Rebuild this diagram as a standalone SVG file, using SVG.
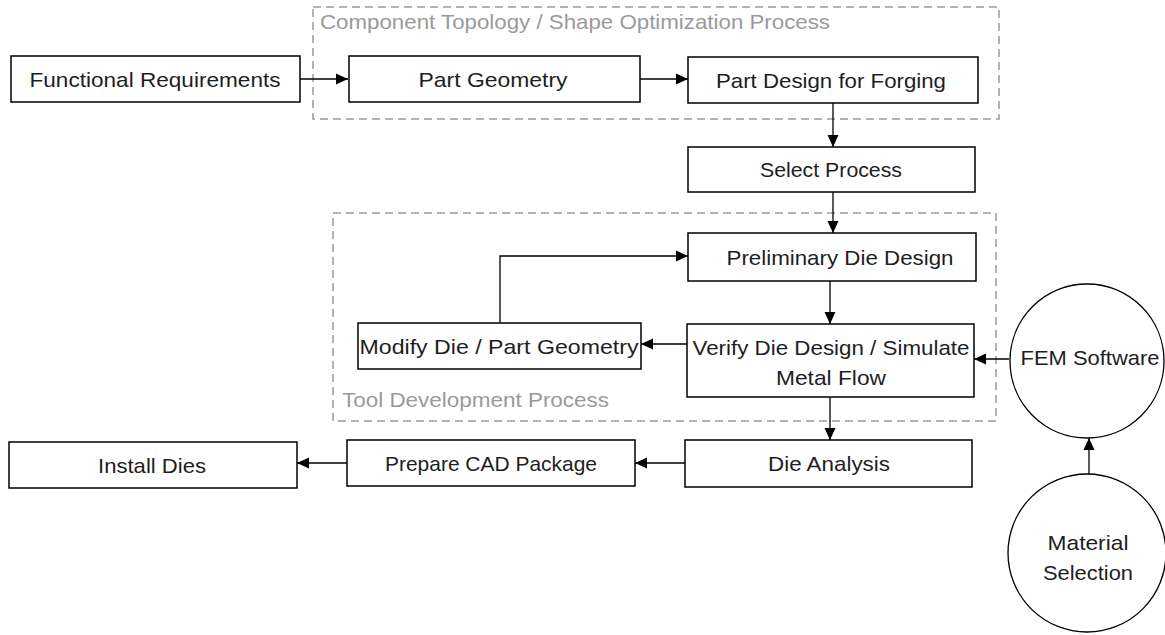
<svg xmlns="http://www.w3.org/2000/svg" width="1165" height="635" viewBox="0 0 1165 635">
<style>
.box{fill:#fff;stroke:#000;stroke-width:1.5}
.circ{fill:#fff;stroke:#000;stroke-width:1.3}
.grp{fill:none;stroke:#9a9a9a;stroke-width:1.5;stroke-dasharray:8 5}
.t{font-family:"Liberation Sans",Arial,sans-serif;font-size:21px;fill:#1e1e1e;text-anchor:middle}
.g{font-family:"Liberation Sans",Arial,sans-serif;font-size:21px;fill:#9a9a9a}
.c{fill:none;stroke:#000;stroke-width:1.3}
</style>
<defs>
<marker id="ah" markerUnits="userSpaceOnUse" markerWidth="12" markerHeight="12" refX="12" refY="6" orient="auto">
<path d="M0,0.5 L12,6 L0,11.5 z" fill="#000"/>
</marker>
</defs>
<rect width="1165" height="635" fill="#fff"/>
<g id="group-topology">
<rect class="grp" x="313" y="7" width="686" height="112"/>
<text class="g" x="320" y="29" textLength="510" lengthAdjust="spacingAndGlyphs">Component Topology / Shape Optimization Process</text>
</g>
<g id="group-tool">
<rect class="grp" x="333" y="213" width="663" height="208"/>
<text class="g" x="342" y="407" textLength="267" lengthAdjust="spacingAndGlyphs">Tool Development Process</text>
</g>
<g id="connectors">
<line class="c" x1="300" y1="79" x2="348" y2="79" marker-end="url(#ah)"/>
<line class="c" x1="640" y1="79" x2="688" y2="79" marker-end="url(#ah)"/>
<line class="c" x1="833" y1="103" x2="833" y2="147" marker-end="url(#ah)"/>
<line class="c" x1="833" y1="192" x2="833" y2="233" marker-end="url(#ah)"/>
<line class="c" x1="830" y1="281" x2="830" y2="324" marker-end="url(#ah)"/>
<line class="c" x1="687" y1="344" x2="641" y2="344" marker-end="url(#ah)"/>
<polyline class="c" points="500,323 500,256 688,256" marker-end="url(#ah)"/>
<line class="c" x1="1009" y1="359" x2="974" y2="359" marker-end="url(#ah)"/>
<line class="c" x1="1089" y1="474" x2="1089" y2="438" marker-end="url(#ah)"/>
<line class="c" x1="830" y1="397" x2="830" y2="440" marker-end="url(#ah)"/>
<line class="c" x1="685" y1="463" x2="635" y2="463" marker-end="url(#ah)"/>
<line class="c" x1="347" y1="463" x2="297" y2="463" marker-end="url(#ah)"/>
</g>
<g id="functional-requirements">
<rect class="box" x="11" y="56" width="289" height="46"/>
<text class="t" x="155" y="87" textLength="251" lengthAdjust="spacingAndGlyphs">Functional Requirements</text>
</g>
<g id="part-geometry">
<rect class="box" x="349" y="56" width="291" height="46"/>
<text class="t" x="493" y="87" textLength="149" lengthAdjust="spacingAndGlyphs">Part Geometry</text>
</g>
<g id="part-design-forging">
<rect class="box" x="688" y="57" width="290" height="46"/>
<text class="t" x="831" y="88" textLength="230" lengthAdjust="spacingAndGlyphs">Part Design for Forging</text>
</g>
<g id="select-process">
<rect class="box" x="688" y="147" width="287" height="45"/>
<text class="t" x="831" y="177" textLength="142" lengthAdjust="spacingAndGlyphs">Select Process</text>
</g>
<g id="preliminary-die-design">
<rect class="box" x="688" y="233" width="288" height="48"/>
<text class="t" x="840" y="265" textLength="227" lengthAdjust="spacingAndGlyphs">Preliminary Die Design</text>
</g>
<g id="modify-die">
<rect class="box" x="358" y="323" width="283" height="46"/>
<text class="t" x="499" y="354" textLength="279" lengthAdjust="spacingAndGlyphs">Modify Die / Part Geometry</text>
</g>
<g id="verify-die-design">
<rect class="box" x="687" y="324" width="287" height="73"/>
<text class="t" x="831" y="355" textLength="277" lengthAdjust="spacingAndGlyphs">Verify Die Design / Simulate</text>
<text class="t" x="831" y="385" textLength="110" lengthAdjust="spacingAndGlyphs">Metal Flow</text>
</g>
<g id="die-analysis">
<rect class="box" x="685" y="440" width="287" height="47"/>
<text class="t" x="829" y="471" textLength="122" lengthAdjust="spacingAndGlyphs">Die Analysis</text>
</g>
<g id="prepare-cad">
<rect class="box" x="347" y="440" width="288" height="46"/>
<text class="t" x="491" y="471" textLength="212" lengthAdjust="spacingAndGlyphs">Prepare CAD Package</text>
</g>
<g id="install-dies">
<rect class="box" x="9" y="442" width="288" height="46"/>
<text class="t" x="152" y="473" textLength="108" lengthAdjust="spacingAndGlyphs">Install Dies</text>
</g>
<g id="fem-software">
<circle class="circ" cx="1087" cy="361" r="77"/>
<text class="t" x="1090" y="365" textLength="139" lengthAdjust="spacingAndGlyphs">FEM Software</text>
</g>
<g id="material-selection">
<circle class="circ" cx="1087" cy="553" r="79"/>
<text class="t" x="1088" y="550" textLength="81" lengthAdjust="spacingAndGlyphs">Material</text>
<text class="t" x="1088" y="580" textLength="90" lengthAdjust="spacingAndGlyphs">Selection</text>
</g>
</svg>
